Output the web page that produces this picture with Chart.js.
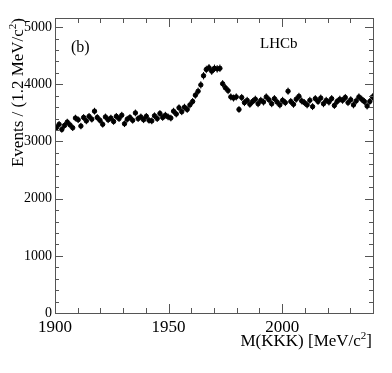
<!DOCTYPE html>
<html>
<head>
<meta charset="utf-8">
<script src="https://cdn.jsdelivr.net/npm/chart.js@4.4.0/dist/chart.umd.min.js"></script>
<style>
  html, body { margin: 0; padding: 0; background: #fff; }
  #wrap { width: 392px; height: 373px; }
</style>
</head>
<body>
<div id="wrap"><canvas id="massChart" width="392" height="373"></canvas></div>
<script>
// bin centres, 1.2 MeV wide
const massBins = [
  1900.6, 1901.8, 1903.0, 1904.2, 1905.4, 1906.6, 1907.8, 1909.0, 1910.2, 1911.4,
  1912.6, 1913.8, 1915.0, 1916.2, 1917.4, 1918.6, 1919.8, 1921.0, 1922.2, 1923.4,
  1924.6, 1925.8, 1927.0, 1928.2, 1929.4, 1930.6, 1931.8, 1933.0, 1934.2, 1935.4,
  1936.6, 1937.8, 1939.0, 1940.2, 1941.4, 1942.6, 1943.8, 1945.0, 1946.2, 1947.4,
  1948.6, 1949.8, 1951.0, 1952.2, 1953.4, 1954.6, 1955.8, 1957.0, 1958.2, 1959.4,
  1960.6, 1961.8, 1963.0, 1964.2, 1965.4, 1966.6, 1967.8, 1969.0, 1970.2, 1971.4,
  1972.6, 1973.8, 1975.0, 1976.2, 1977.4, 1978.6, 1979.8, 1981.0, 1982.2, 1983.4,
  1984.6, 1985.8, 1987.0, 1988.2, 1989.4, 1990.6, 1991.8, 1993.0, 1994.2, 1995.4,
  1996.6, 1997.8, 1999.0, 2000.2, 2001.4, 2002.6, 2003.8, 2005.0, 2006.2, 2007.4,
  2008.6, 2009.8, 2011.0, 2012.2, 2013.4, 2014.6, 2015.8, 2017.0, 2018.2, 2019.4,
  2020.6, 2021.8, 2023.0, 2024.2, 2025.4, 2026.6, 2027.8, 2029.0, 2030.2, 2031.4,
  2032.6, 2033.8, 2035.0, 2036.2, 2037.4, 2038.6, 2039.8
];

const events = [
  3240, 3300, 3210, 3280, 3340, 3290, 3240, 3410, 3380, 3270,
  3420, 3360, 3440, 3390, 3530, 3420, 3370, 3300, 3430, 3380,
  3410, 3350, 3440, 3400, 3460, 3310, 3390, 3420, 3370, 3500,
  3400, 3430, 3380, 3440, 3370, 3360, 3450, 3400, 3490, 3420,
  3460, 3430, 3410, 3530, 3480, 3590, 3520, 3600, 3560, 3640,
  3700, 3810, 3880, 3990, 4150, 4260, 4290, 4230, 4280, 4270,
  4280, 4010, 3940, 3890, 3780, 3760, 3780, 3560, 3770, 3680,
  3720, 3650, 3700, 3740, 3660, 3720, 3690, 3780, 3730, 3660,
  3750, 3690, 3640, 3720, 3680, 3880, 3700, 3650, 3740, 3790,
  3710, 3680, 3640, 3720, 3610, 3750, 3700, 3760, 3660, 3720,
  3690, 3750, 3630, 3700, 3740, 3720, 3770, 3680, 3730, 3640,
  3710, 3780, 3740, 3700, 3620, 3700, 3780
];

const xTicks = [1900, 1950, 2000];
const yTicks = [0, 1000, 2000, 3000, 4000, 5000];

const FONT = "'Liberation Serif', 'DejaVu Serif', serif";
const binWidth = 1.2;

// draws "pre" + superscript "sup" + "post"
function drawSupText(ctx, x, y, pre, sup, post, size, align) {
  ctx.font = size + "px " + FONT;
  const w1 = ctx.measureText(pre).width;
  const w3 = ctx.measureText(post).width;
  ctx.font = Math.round(size * 0.65) + "px " + FONT;
  const w2 = ctx.measureText(sup).width;
  let x0 = align === "right" ? x - (w1 + w2 + w3) : x;
  ctx.textAlign = "left";
  ctx.textBaseline = "alphabetic";
  ctx.font = size + "px " + FONT;
  ctx.fillText(pre, x0, y);
  ctx.font = Math.round(size * 0.65) + "px " + FONT;
  ctx.fillText(sup, x0 + w1, y - size * 0.4);
  ctx.font = size + "px " + FONT;
  ctx.fillText(post, x0 + w1 + w2, y);
}

// error bars: sqrt(N) vertically, half bin horizontally
const errorBars = {
  id: "errorBars",
  beforeDatasetsDraw(chart) {
    const { ctx, scales: { x, y } } = chart;
    ctx.save();
    ctx.strokeStyle = "#000";
    ctx.lineWidth = 1;
    massBins.forEach((m, i) => {
      const v = events[i];
      const px = x.getPixelForValue(m);
      const e = Math.sqrt(v);
      ctx.beginPath();
      ctx.moveTo(px, y.getPixelForValue(v - e));
      ctx.lineTo(px, y.getPixelForValue(v + e));
      ctx.moveTo(x.getPixelForValue(m - binWidth / 2), y.getPixelForValue(v));
      ctx.lineTo(x.getPixelForValue(m + binWidth / 2), y.getPixelForValue(v));
      ctx.stroke();
    });
    ctx.restore();
  }
};

// ROOT style frame with inward ticks on all four sides, plus text
const frameAndText = {
  id: "frameAndText",
  afterDraw(chart) {
    const { ctx, chartArea: a, scales: { x, y } } = chart;
    ctx.save();
    ctx.strokeStyle = "#555";
    ctx.lineWidth = 1;
    ctx.strokeRect(a.left + 0.5, a.top + 0.5, a.right - a.left, a.bottom - a.top);

    ctx.beginPath();
    for (let m = 1900; m <= 2040; m += 10) {
      const px = Math.round(x.getPixelForValue(m)) + 0.5;
      const len = m % 50 === 0 ? 9 : 5;
      ctx.moveTo(px, a.bottom);
      ctx.lineTo(px, a.bottom - len);
      ctx.moveTo(px, a.top);
      ctx.lineTo(px, a.top + len);
    }
    for (let v = 0; v <= 5000; v += 200) {
      const py = Math.round(y.getPixelForValue(v)) + 0.5;
      const len = v % 1000 === 0 ? 8 : 4;
      ctx.moveTo(a.left, py);
      ctx.lineTo(a.left + len, py);
      ctx.moveTo(a.right, py);
      ctx.lineTo(a.right - len, py);
    }
    ctx.stroke();

    ctx.fillStyle = "#000";
    ctx.font = "16px " + FONT;
    ctx.textAlign = "left";
    ctx.textBaseline = "alphabetic";
    ctx.fillText("(b)", 71, 52);
    ctx.font = "15px " + FONT;
    ctx.fillText("LHCb", 260, 48);

    drawSupText(ctx, 372, 346, "M(KKK) [MeV/c", "2", "]", 17, "right");

    ctx.translate(23, 18);
    ctx.rotate(-Math.PI / 2);
    drawSupText(ctx, 0, 0, "Events / (1.2 MeV/c", "2", ")", 17, "right");
    ctx.restore();
  }
};

const ctx = document.getElementById("massChart").getContext("2d");
new Chart(ctx, {
  type: "scatter",
  data: {
    datasets: [
      {
        label: "Events",
        data: massBins.map((m, i) => ({ x: m, y: events[i] })),
        backgroundColor: "#000",
        borderColor: "#000",
        pointRadius: 2.2,
        pointStyle: "circle",
      },
    ],
  },
  options: {
    responsive: false,
    animation: false,
    devicePixelRatio: 1,
    layout: { padding: { top: 18, right: 19, left: 0, bottom: 0 } },
    plugins: {
      legend: { display: false },
      tooltip: { enabled: false },
    },
    scales: {
      x: {
        type: "linear",
        min: 1900,
        max: 2040,
        grid: { display: false, drawTicks: false },
        border: { display: false },
        afterBuildTicks: (s) => { s.ticks = xTicks.map((v) => ({ value: v })); },
        afterFit: (s) => { s.height = 60; },
        ticks: {
          autoSkip: false,
          maxRotation: 0,
          padding: 4,
          color: "#000",
          font: { family: FONT, size: 17 },
          callback: (v) => String(v),
        },
      },
      y: {
        min: 0,
        max: 5160,
        grid: { display: false, drawTicks: false },
        border: { display: false },
        afterBuildTicks: (s) => { s.ticks = yTicks.map((v) => ({ value: v })); },
        afterFit: (s) => { s.width = 55; },
        ticks: {
          autoSkip: false,
          padding: 3,
          color: "#000",
          font: { family: FONT, size: 14 },
          callback: (v) => String(v),
        },
      },
    },
  },
  plugins: [errorBars, frameAndText],
});
</script>
</body>
</html>
